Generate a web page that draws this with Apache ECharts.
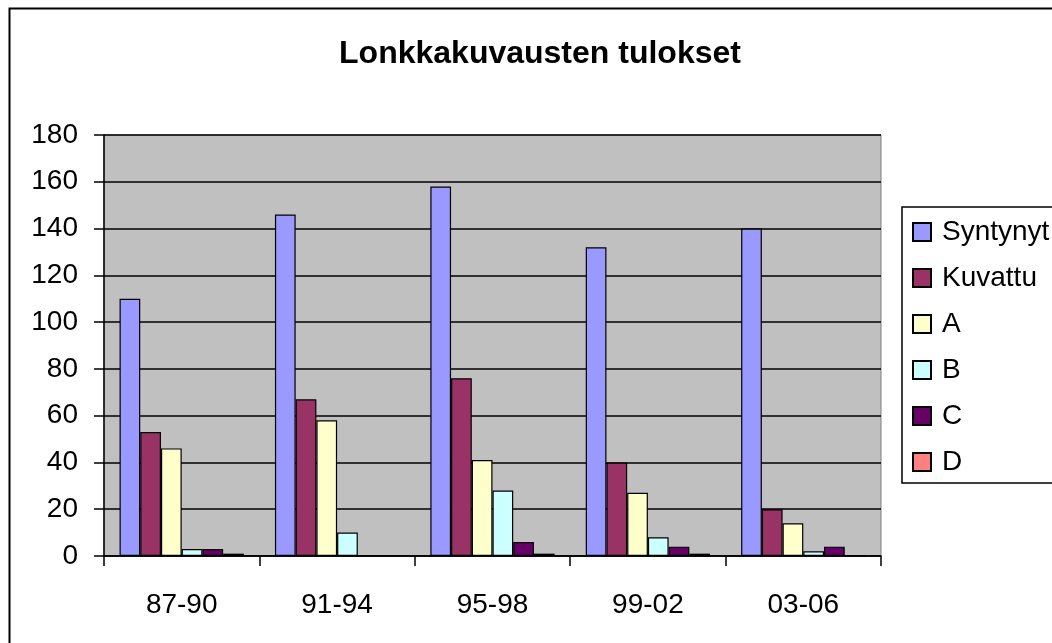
<!DOCTYPE html>
<html>
<head>
<meta charset="utf-8">
<script src="https://cdn.jsdelivr.net/npm/echarts@6/dist/echarts.min.js"></script>
<style>
html,body{margin:0;padding:0;background:#fff;}
#chart{width:1052px;height:643px;}
</style>
</head>
<body>
<div id="chart"></div>
<script>
const titleText = 'Lonkkakuvausten tulokset';
const categories = ['87-90', '91-94', '95-98', '99-02', '03-06'];
const seriesNames = ['Syntynyt', 'Kuvattu', 'A', 'B', 'C', 'D'];
const syntynyt = [110, 146, 158, 132, 140];
const kuvattu = [53, 67, 76, 40, 20];
const aVals = [46, 58, 41, 27, 14];
const bVals = [3, 10, 28, 8, 2];
const cVals = [3, 0, 6, 4, 4];
const dVals = [1, 0, 1, 1, 0];
const yTicks = [0, 20, 40, 60, 80, 100, 120, 140, 160, 180];

const colors = ['#9999FF', '#993366', '#FFFFCC', '#CCFFFF', '#660066', '#FF8080'];
const allData = [syntynyt, kuvattu, aVals, bVals, cVals, dVals];
const font = '"Liberation Sans", Arial, sans-serif';

const chart = echarts.init(document.getElementById('chart'), null, {renderer: 'canvas'});
chart.setOption({
  animation: false,
  backgroundColor: '#ffffff',
  title: {
    text: titleText,
    left: 535,
    textAlign: 'center',
    top: 33,
    textStyle: {fontFamily: font, fontSize: 32, fontWeight: 'bold', color: '#000'}
  },
  graphic: [{
    type: 'rect',
    left: 7, top: 6,
    shape: {width: 1100, height: 700},
    style: {fill: 'none', stroke: '#000', lineWidth: 2},
    silent: true
  }],
  legend: {
    orient: 'vertical',
    left: 902,
    top: 207,
    padding: [11, 14, 7, 10],
    itemWidth: 18,
    itemHeight: 18,
    itemGap: 18,
    icon: 'rect',
    backgroundColor: '#fff',
    borderColor: '#000',
    borderWidth: 1.5,
    textStyle: {fontFamily: font, fontSize: 28, color: '#000', lineHeight: 28, padding: [0, 0, 0, 6]},
    data: seriesNames
  },
  grid: {
    left: 104, top: 135, right: 171, bottom: 87,
    show: true,
    backgroundColor: '#C0C0C0',
    borderColor: '#808080',
    borderWidth: 1
  },
  xAxis: {
    type: 'category',
    data: categories,
    boundaryGap: true,
    axisLine: {lineStyle: {color: '#000', width: 1.5}},
    axisTick: {show: true, length: 10, alignWithLabel: false, lineStyle: {color: '#000', width: 1.5}},
    axisLabel: {fontFamily: font, fontSize: 28, color: '#000', margin: 35}
  },
  yAxis: {
    type: 'value',
    min: yTicks[0],
    max: yTicks[yTicks.length - 1],
    interval: yTicks[1] - yTicks[0],
    axisLine: {show: true, lineStyle: {color: '#000', width: 1.5}},
    axisTick: {show: true, length: 10, lineStyle: {color: '#000', width: 1.5}},
    axisLabel: {fontFamily: font, fontSize: 28, color: '#000', margin: 26},
    splitLine: {show: true, lineStyle: {color: '#000', width: 1.5}}
  },
  series: seriesNames.map((name, i) => ({
    name: name,
    type: 'bar',
    data: allData[i],
    barGap: '0%',
    barCategoryGap: '20%',
    itemStyle: {color: colors[i], borderColor: '#000', borderWidth: 1.2}
  }))
});
</script>
</body>
</html>
